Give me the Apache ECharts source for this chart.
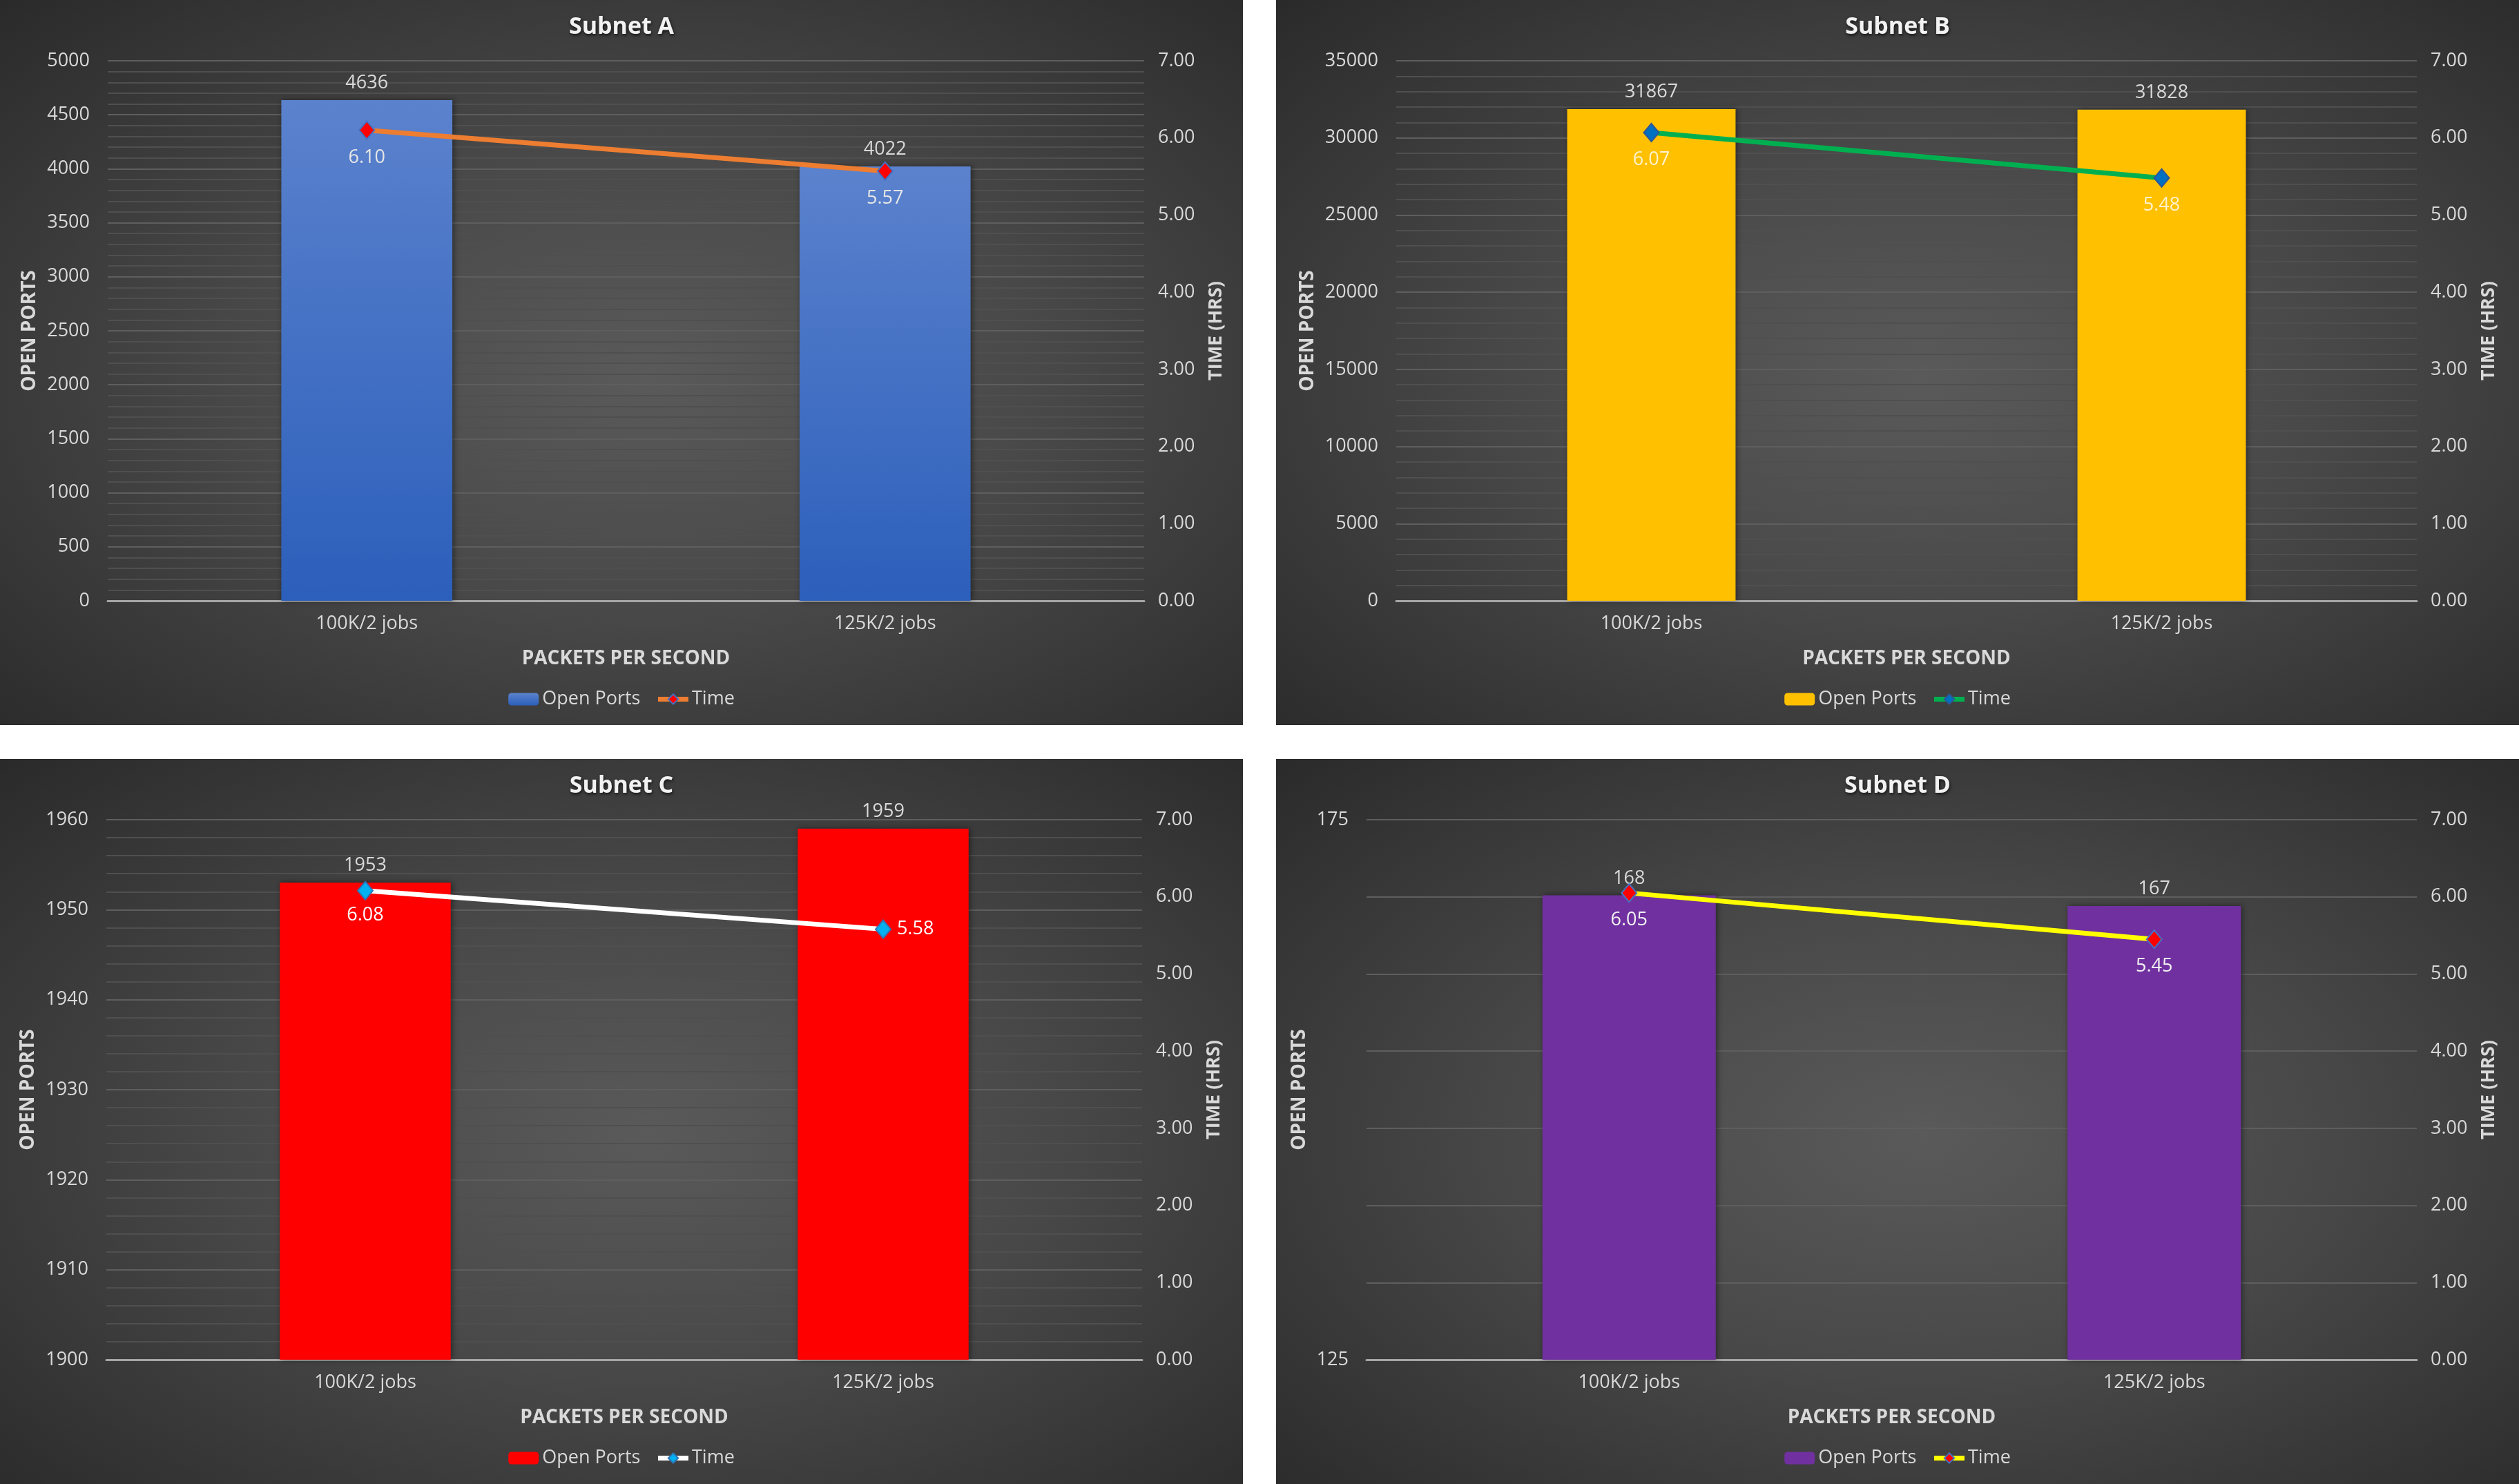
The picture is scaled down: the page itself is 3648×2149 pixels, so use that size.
<!DOCTYPE html>
<html>
<head>
<meta charset="utf-8">
<script src="https://cdn.jsdelivr.net/npm/echarts@6/dist/echarts.min.js"></script>
<style>
  html, body { margin: 0; padding: 0; background: #ffffff; }
  body { width: 3648px; height: 2149px; position: relative; overflow: hidden; }
  .panel {
    position: absolute; width: 1800px; height: 1050px;
    background: radial-gradient(ellipse at 52% 52%, #5a5a5a 0%, #484848 45%, #2a2a2a 100%);
  }
</style>
</head>
<body>
<div class="panel" id="chartA" style="left:0;top:0"></div>
<div class="panel" id="chartB" style="left:1848px;top:0"></div>
<div class="panel" id="chartC" style="left:0;top:1099px"></div>
<div class="panel" id="chartD" style="left:1848px;top:1099px"></div>
<script>
// 横轴分类
const categories = ['100K/2 jobs', '125K/2 jobs'];
// 每个子网的开放端口和耗时
const portsA = [4636, 4022];
const timeA = [6.10, 5.57];
const portsB = [31867, 31828];
const timeB = [6.07, 5.48];
const portsC = [1953, 1959];
const timeC = [6.08, 5.58];
const portsD = [168, 167];
const timeD = [6.05, 5.45];
// 左轴范围 [min, max, 步长]
const portsAxisA = [0, 5000, 500];
const portsAxisB = [0, 35000, 5000];
const portsAxisC = [1900, 1960, 10];
const portsAxisD = [125, 175, 50];
// 右轴范围
const timeAxis = [0, 7, 1];

const textColor = '#d9d9d9';
const fontFamily = '"Open Sans", "Noto Sans", sans-serif';

function buildOption(c) {
    const onlyEnds = c.onlyEnds;  // D图：左轴只标首尾
    const leftLabel = { color: textColor, fontSize: 27, margin: 26, formatter: v => String(v) };
    if (onlyEnds) leftLabel.customValues = [c.portsAxis[0], c.portsAxis[1]];
    return {
        animation: false,
        backgroundColor: 'transparent',
        textStyle: { fontFamily: fontFamily },
        title: {
            text: c.title,
            left: 'center',
            top: 17,
            textStyle: {
                color: '#f2f2f2', fontSize: 34, fontWeight: 'bold', fontFamily: fontFamily,
                textShadowColor: 'rgba(0,0,0,0.7)', textShadowBlur: 4, textShadowOffsetX: 1, textShadowOffsetY: 2
            }
        },
        legend: {
            top: 994,
            left: 'center',
            itemWidth: 44,
            itemHeight: 18,
            itemGap: 22,
            textStyle: { color: textColor, fontSize: 27, fontFamily: fontFamily },
            lineStyle: { width: 7 },
            data: ['Open Ports', 'Time']
        },
        grid: { left: c.left, right: c.right, top: 88, bottom: 180 },
        xAxis: {
            type: 'category',
            data: categories,
            name: 'PACKETS PER SECOND',
            nameLocation: 'middle',
            nameGap: 70,
            nameTextStyle: { color: textColor, fontSize: 28, fontWeight: 'bold' },
            axisLine: { lineStyle: { color: '#a6a6a6', width: 3 } },
            axisTick: { show: false },
            axisLabel: { color: textColor, fontSize: 27, margin: 20 }
        },
        yAxis: [{
            type: 'value',
            min: c.portsAxis[0],
            max: c.portsAxis[1],
            interval: onlyEnds ? null : c.portsAxis[2],
            name: 'OPEN PORTS',
            nameLocation: 'middle',
            nameRotate: 90,
            nameGap: c.left - 60,
            nameTextStyle: { color: textColor, fontSize: 28, fontWeight: 'bold' },
            axisLine: { show: false },
            axisTick: { show: false },
            axisLabel: leftLabel,
            splitLine: { show: !onlyEnds, lineStyle: { color: '#5e5e5e', width: 2 } },
            minorTick: { show: false, splitNumber: 5 },
            minorSplitLine: { show: !onlyEnds, lineStyle: { color: '#4f4f4f', width: 2 } }
        }, {
            type: 'value',
            min: timeAxis[0],
            max: timeAxis[1],
            interval: timeAxis[2],
            name: 'TIME (HRS)',
            nameLocation: 'middle',
            nameRotate: 90,
            nameGap: 91,
            nameTextStyle: { color: textColor, fontSize: 27, fontWeight: 'bold' },
            axisLine: { show: false },
            axisTick: { show: false },
            axisLabel: { color: textColor, fontSize: 27, margin: 20, formatter: v => v.toFixed(2) },
            splitLine: { show: onlyEnds, lineStyle: { color: '#5e5e5e', width: 2 } }
        }],
        series: [{
            name: 'Open Ports',
            type: 'bar',
            barWidth: '33%',
            data: c.ports,
            itemStyle: {
                color: c.barColor,
                shadowColor: 'rgba(0,0,0,0.45)',
                shadowBlur: 8,
                shadowOffsetX: 2
            },
            label: {
                show: true, position: 'top', distance: 11,
                color: textColor, fontSize: 27
            }
        }, {
            name: 'Time',
            type: 'line',
            yAxisIndex: 1,
            symbol: 'diamond',
            symbolSize: [22, 26],
            z: 5,
            data: c.time.map((v, i) => ({ value: v, label: { position: c.labelPos[i] } })),
            lineStyle: { color: c.lineColor, width: 7 },
            itemStyle: { color: c.markerColor, borderColor: c.markerBorder, borderWidth: 2 },
            label: {
                show: true, distance: c.labelDist, color: c.labelColor, fontSize: 27,
                formatter: p => p.value.toFixed(2)
            }
        }]
    };
}

const blueBar = new echarts.graphic.LinearGradient(0, 0, 0, 1, [
    { offset: 0, color: '#5b82cd' },
    { offset: 1, color: '#2c5fbb' }
]);

echarts.init(document.getElementById('chartA')).setOption(buildOption({
    title: 'Subnet A', ports: portsA, time: timeA, portsAxis: portsAxisA,
    left: 156, right: 143, barColor: blueBar,
    lineColor: '#ed7d31', markerColor: '#ff0000', markerBorder: '#4472c4',
    labelPos: ['bottom', 'bottom'], labelDist: 12, labelColor: '#e6e6e6'
}));
echarts.init(document.getElementById('chartB')).setOption(buildOption({
    title: 'Subnet B', ports: portsB, time: timeB, portsAxis: portsAxisB,
    left: 174, right: 148, barColor: '#ffc000',
    lineColor: '#00b050', markerColor: '#0070c0', markerBorder: '#2f5597',
    labelPos: ['bottom', 'bottom'], labelDist: 12, labelColor: '#fff2cc'
}));
echarts.init(document.getElementById('chartC')).setOption(buildOption({
    title: 'Subnet C', ports: portsC, time: timeC, portsAxis: portsAxisC,
    left: 154, right: 146, barColor: '#ff0000',
    lineColor: '#ffffff', markerColor: '#00b0f0', markerBorder: '#2e75b6',
    labelPos: ['bottom', 'right'], labelDist: 8, labelColor: '#ffffff'
}));
echarts.init(document.getElementById('chartD')).setOption(buildOption({
    title: 'Subnet D', ports: portsD, time: timeD, portsAxis: portsAxisD, onlyEnds: true,
    left: 131, right: 148, barColor: '#7030a0',
    lineColor: '#ffff00', markerColor: '#ff0000', markerBorder: '#4472c4',
    labelPos: ['bottom', 'bottom'], labelDist: 12, labelColor: '#f2f2f2'
}));
</script>
</body>
</html>
